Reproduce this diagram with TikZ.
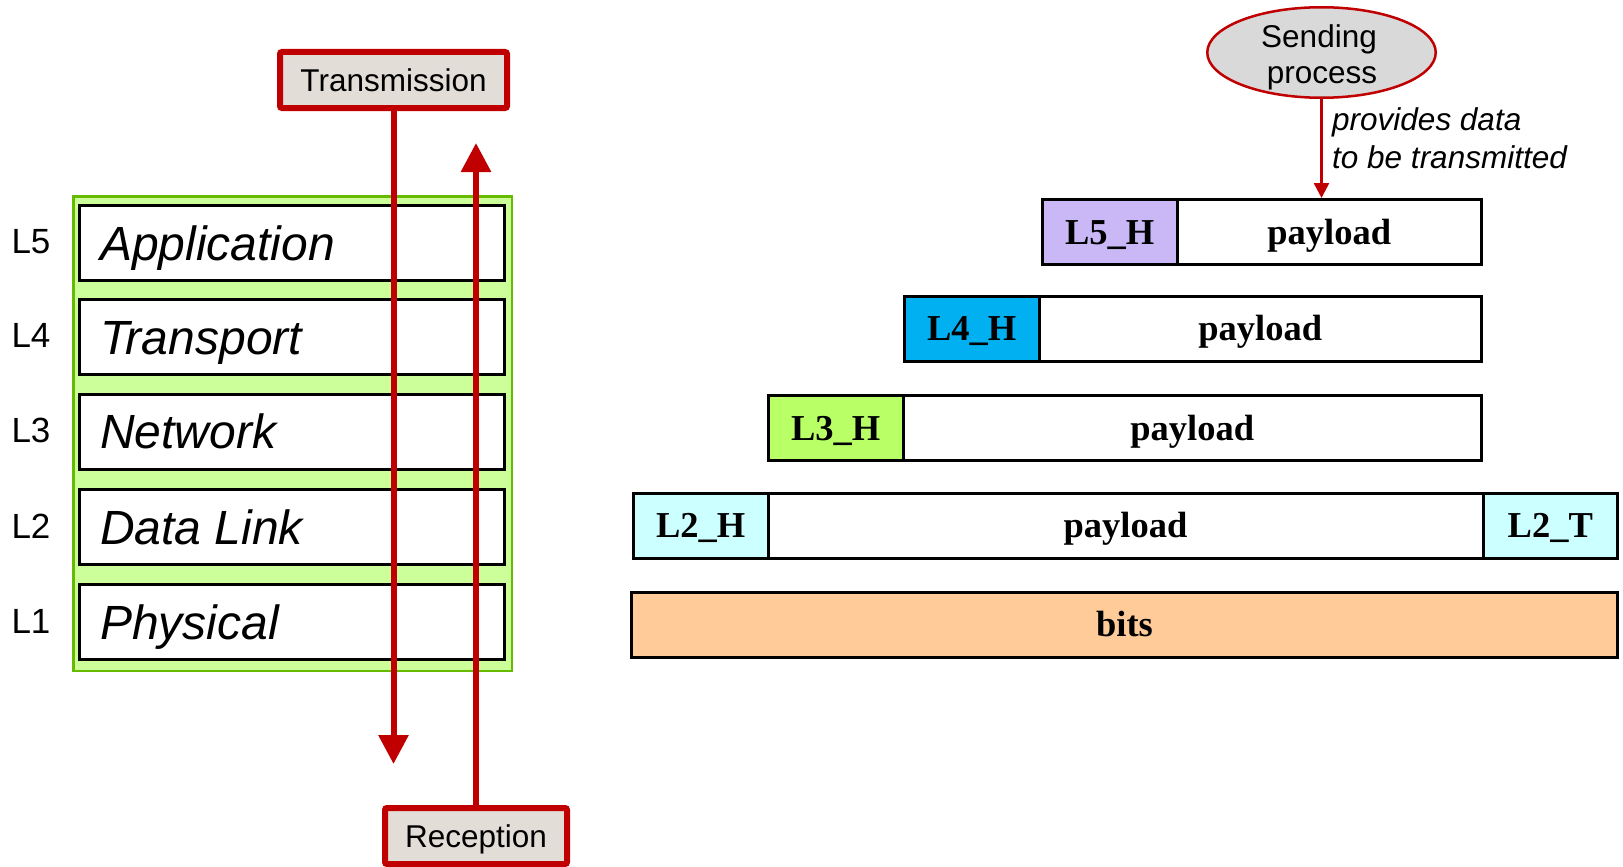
\documentclass[tikz,border=0pt]{standalone}
\usepackage{fontspec}
\setmainfont{Liberation Sans}
\newfontfamily\timesfont{Liberation Serif}
\usetikzlibrary{arrows.meta,shapes.geometric}

\definecolor{redline}{HTML}{C00000}
\definecolor{stackfill}{HTML}{CCFF99}
\definecolor{stackedge}{HTML}{66BB00}
\definecolor{tagfill}{HTML}{E3DDD7}
\definecolor{procfill}{HTML}{D9D9D9}
\definecolor{hfive}{HTML}{C9B8F5}
\definecolor{hfour}{HTML}{00B0F0}
\definecolor{hthree}{HTML}{B9FF66}
\definecolor{htwo}{HTML}{CCFFFF}
\definecolor{bitsfill}{HTML}{FFCC99}

\begin{document}
\begin{tikzpicture}[x=1pt,y=-1pt,
  layerbox/.style={draw=black, fill=white, line width=3pt, minimum width=425.5pt,
    minimum height=75pt, inner sep=0pt, outer sep=0pt},
  layername/.style={font=\fontsize{48}{50}\selectfont\itshape, text height=34.4pt,
    text depth=0pt, inner sep=0pt, anchor=west},
  layerno/.style={font=\fontsize{35}{38}\selectfont, text height=25pt,
    text depth=0pt, inner sep=0pt},
  tagbox/.style={draw=redline, fill=tagfill, line width=6pt, rounded corners=2pt,
    inner sep=0pt, minimum height=56pt, font=\fontsize{31.5}{34}\selectfont,
    text height=22.5pt, text depth=0pt},
  flow/.style={draw=redline, line width=6pt, -{Triangle[width=29pt,length=29pt]}},
  pkt/.style={draw=black, line width=3pt, fill=white, inner sep=0pt, outer sep=0pt,
    anchor=west, minimum height=65pt,
    font=\timesfont\bfseries\fontsize{36.5}{40}\selectfont,
    text height=24pt, text depth=0pt},
  hdrw/.style={minimum width=134.5pt},
  note/.style={font=\fontsize{31.5}{34}\selectfont, inner sep=0pt}
]
\useasboundingbox (0,0) rectangle (1623,867);

% protocol stack
\node[draw=stackedge, fill=stackfill, line width=2.5pt, inner sep=0pt,
  minimum width=438.5pt, minimum height=474.5pt] (stack) at (292.5,433.5) {};

\node[layerbox] (app)  at (291.75,243)   {};
\node[layerbox] (tra)  at (291.75,337)   {};
\node[layerbox] (net)  at (291.75,431.5) {};
\node[layerbox] (dl)   at (291.75,527)   {};
\node[layerbox] (phy)  at (291.75,622)   {};

\node[layername] (appname) at (100,243)   {Application};
\node[layername] (traname) at (100,337)   {Transport};
\node[layername] (netname) at (100,431.5) {Network};
\node[layername] (dlname)  at (100,527)   {Data Link};
\node[layername] (phyname) at (100,622)   {Physical};

\node[layerno] (n5) at (31,241)   {L5};
\node[layerno] (n4) at (31,335)   {L4};
\node[layerno] (n3) at (31,430) {L3};
\node[layerno] (n2) at (31,526)   {L2};
\node[layerno] (n1) at (31,621)   {L1};

% transmission / reception directions
\node[tagbox, minimum width=227pt] (tx) at (393.5,80)  {Transmission};
\node[tagbox, minimum width=182pt] (rx) at (476,836)   {Reception};
\coordinate (txend) at (393.5,764);
\coordinate (rxend) at (476,143);
\draw[flow] (tx.south) -- (txend);
\draw[flow] (rx.north) -- (rxend);

% sending process
\node[ellipse, draw=redline, fill=procfill, line width=2.5pt, inner sep=0pt,
  minimum width=228.5pt, minimum height=90.5pt] (proc) at (1321.5,52.5) {};
\node[note, anchor=base] (proc1) at (1319,47.5) {Sending};
\node[note, anchor=base] (proc2) at (1322,84) {process};
\node[note, anchor=base west, font=\fontsize{31.5}{34}\selectfont\itshape]
  (pd1) at (1332,130) {provides data};
\node[note, anchor=base west, font=\fontsize{31.5}{34}\selectfont\itshape]
  (pd2) at (1332,168) {to be transmitted};

% encapsulated units
\node[pkt, hdrw, fill=hfive] (l5h) at (1042.5,232) {L5\_H};
\node[pkt, minimum width=304.5pt] (l5p) at (l5h.east) {payload};

\node[pkt, hdrw, fill=hfour] (l4h) at (904.5,328.5) {L4\_H};
\node[pkt, minimum width=442.5pt] (l4p) at (l4h.east) {payload};

\node[pkt, hdrw, fill=hthree] (l3h) at (768.5,428) {L3\_H};
\node[pkt, minimum width=578.5pt] (l3p) at (l3h.east) {payload};

\node[pkt, hdrw, fill=htwo] (l2h) at (633.5,525.5) {L2\_H};
\node[pkt, minimum width=715pt] (l2p) at (l2h.east) {payload};
\node[pkt, hdrw, fill=htwo] (l2t) at (l2p.east) {L2\_T};

\node[pkt, fill=bitsfill, minimum width=986pt] (bits) at (631.5,624.5) {bits};

\draw[redline, line width=2.5pt, shorten >=1.5pt, -{Triangle[width=15pt,length=15pt]}]
  (proc.south) -- (proc.south |- l5p.north);
\end{tikzpicture}
\end{document}
